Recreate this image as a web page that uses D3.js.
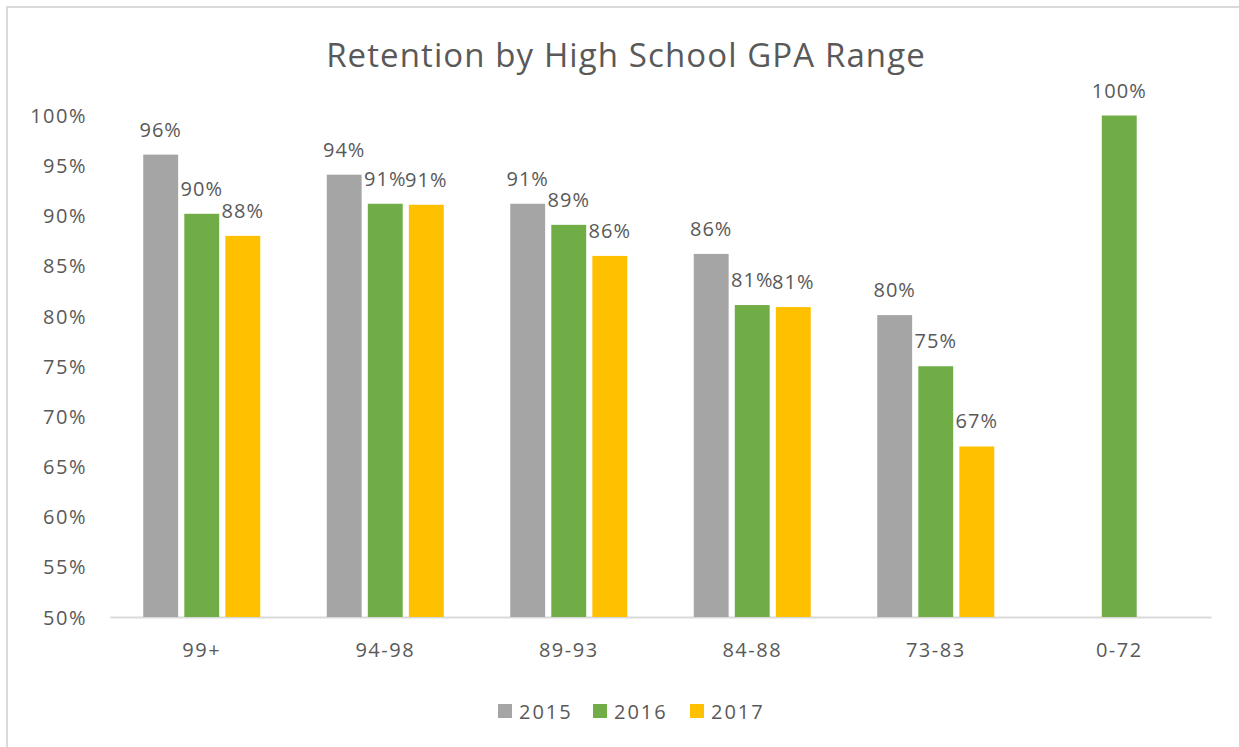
<!DOCTYPE html>
<html lang="en">
<head>
<meta charset="UTF-8">
<title>Retention by High School GPA Range</title>
<script src="https://cdn.jsdelivr.net/npm/d3@7/dist/d3.min.js"></script>
<style>
    body { margin: 0; background: #fff; }
    svg text { font-family: "Open Sans", "Lato", sans-serif; fill: #595959; }
</style>
</head>
<body>
<svg id="chart" width="1239" height="747"></svg>
<script>
    // data
    var categories = ["99+", "94-98", "89-93", "84-88", "73-83", "0-72"];
    var seriesNames = ["2015", "2016", "2017"];
    var values2015 = [96.1, 94.1, 91.2, 86.2, 80.1, null];
    var values2016 = [90.2, 91.2, 89.1, 81.1, 75.0, 100];
    var values2017 = [88.0, 91.1, 86.0, 80.9, 67.0, null];
    var colors = ["#a5a5a5", "#70ad47", "#ffc000"];
    var yTicks = [50, 55, 60, 65, 70, 75, 80, 85, 90, 95, 100];

    var allSeries = [values2015, values2016, values2017];

    var svg = d3.select("#chart");

    // chart area border
    svg.append("rect")
        .attr("x", 7).attr("y", 7)
        .attr("width", 1260).attr("height", 780)
        .attr("fill", "#fff")
        .attr("stroke", "#d9d9d9")
        .attr("stroke-width", 2);

    // title
    svg.append("text")
        .attr("x", 626)
        .attr("y", 67)
        .attr("text-anchor", "middle")
        .style("font-size", "33px")
        .style("letter-spacing", "1.1px")
        .text("Retention by High School GPA Range");

    var x0 = d3.scaleBand()
        .domain(categories)
        .range([110, 1211]);

    var groupWidth = 117;
    var x1 = d3.scaleBand()
        .domain(seriesNames)
        .range([0, groupWidth])
        .paddingInner(0.15);

    var y = d3.scaleLinear()
        .domain([50, 100])
        .range([617, 115.5]);

    // y axis (labels only)
    var yAxis = d3.axisLeft(y)
        .tickValues(yTicks)
        .tickSize(0)
        .tickPadding(0)
        .tickFormat(function (d) { return d + "%"; });
    var gy = svg.append("g")
        .attr("transform", "translate(87,0)")
        .call(yAxis);
    gy.select(".domain").remove();
    gy.selectAll("text")
        .style("font-size", "20px")
        .style("letter-spacing", "1.5px")
        .attr("fill", "#595959")
        .attr("dy", "0.35em");

    // x axis
    var xAxis = d3.axisBottom(x0)
        .tickSize(0)
        .tickPadding(0);
    var gx = svg.append("g")
        .attr("transform", "translate(0,617)")
        .call(xAxis);
    gx.select(".domain")
        .attr("stroke", "#d9d9d9")
        .attr("stroke-width", 2);
    gx.selectAll("text")
        .style("font-size", "20px")
        .style("letter-spacing", "1.5px")
        .attr("fill", "#595959")
        .attr("dy", "2.0em");

    // bars
    var rows = [];
    allSeries.forEach(function (vals, si) {
        vals.forEach(function (v, ci) {
            if (v !== null) rows.push({ cat: categories[ci], series: seriesNames[si], si: si, value: v });
        });
    });

    function barX(d) {
        return x0(d.cat) + (x0.bandwidth() - groupWidth) / 2 + x1(d.series);
    }

    svg.selectAll(".bar")
        .data(rows)
        .enter()
        .append("rect")
        .attr("class", "bar")
        .attr("x", barX)
        .attr("y", function (d) { return y(d.value); })
        .attr("width", x1.bandwidth())
        .attr("height", function (d) { return y(50) - y(d.value); })
        .attr("fill", function (d) { return colors[d.si]; });

    // data labels
    svg.selectAll(".lbl")
        .data(rows)
        .enter()
        .append("text")
        .attr("class", "lbl")
        .attr("x", function (d) { return barX(d) + x1.bandwidth() / 2; })
        .attr("y", function (d) { return y(d.value) - 18; })
        .attr("text-anchor", "middle")
        .style("font-size", "20px")
        .style("letter-spacing", "1px")
        .text(function (d) { return Math.round(d.value) + "%"; });

    // legend
    var legendX = [498, 593, 690];
    var legend = svg.selectAll(".legend")
        .data(seriesNames)
        .enter()
        .append("g")
        .attr("transform", function (d, i) { return "translate(" + legendX[i] + ",704)"; });
    legend.append("rect")
        .attr("width", 14).attr("height", 14)
        .attr("fill", function (d, i) { return colors[i]; });
    legend.append("text")
        .attr("x", 21)
        .attr("y", 15)
        .style("font-size", "20px")
        .style("letter-spacing", "2px")
        .text(function (d) { return d; });
</script>
</body>
</html>
